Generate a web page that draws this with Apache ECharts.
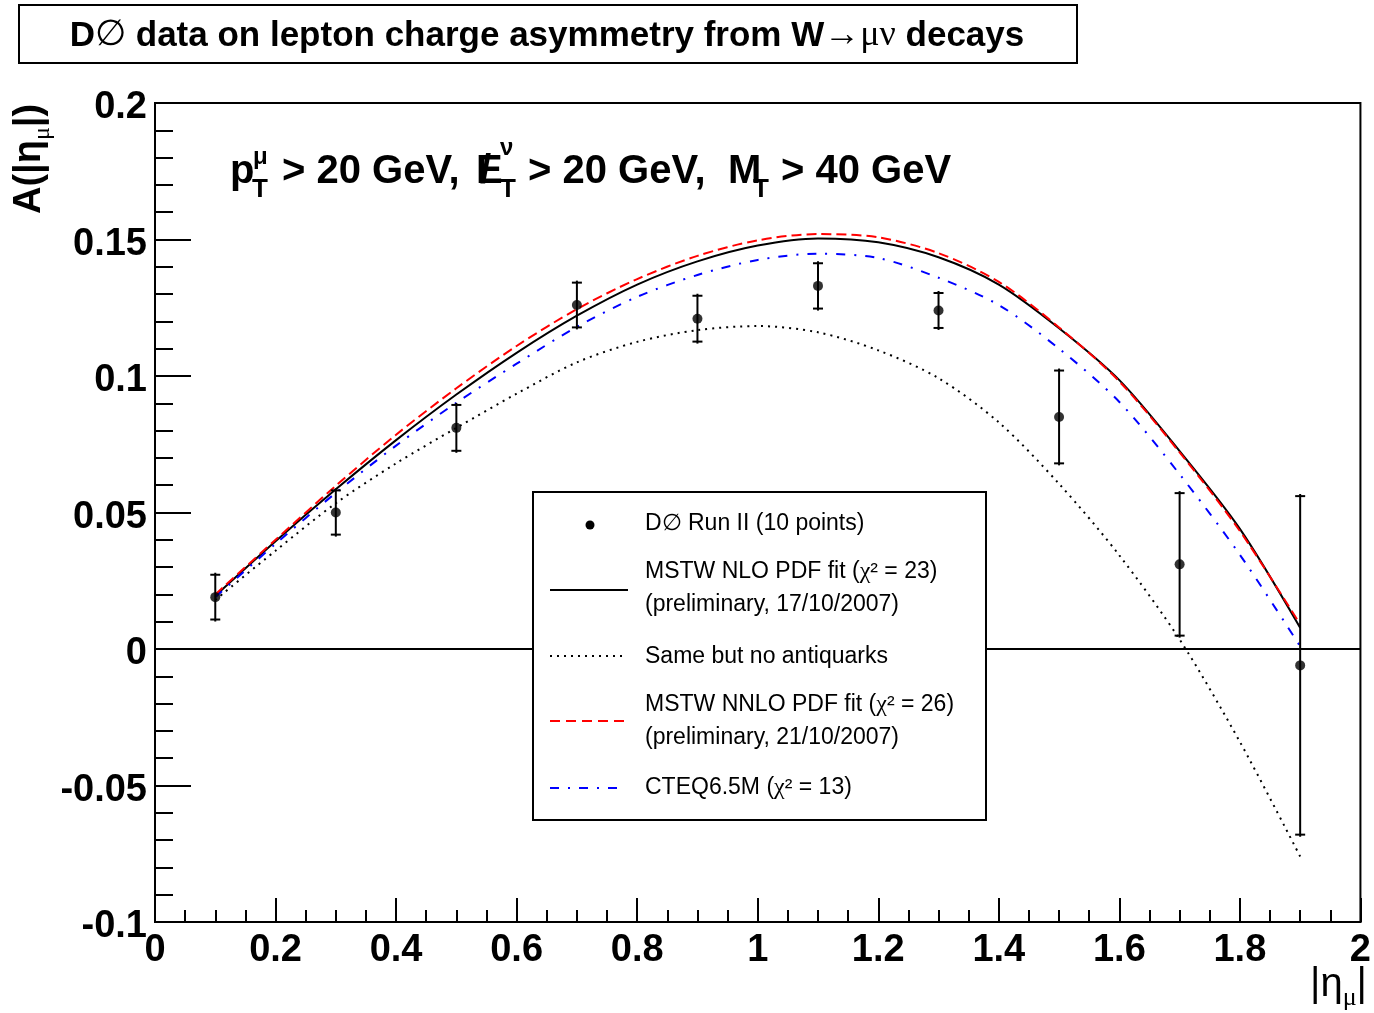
<!DOCTYPE html>
<html>
<head>
<meta charset="utf-8">
<script src="https://cdn.jsdelivr.net/npm/echarts@6/dist/echarts.min.js"></script>
<style>
  html, body { margin: 0; padding: 0; background: #fff; }
  #chart { width: 1374px; height: 1013px; }
</style>
</head>
<body>
<div id="chart"></div>
<script>
// D0 points
var etaBins = [0.1, 0.3, 0.5, 0.7, 0.9, 1.1, 1.3, 1.5, 1.7, 1.9];
var d0Asym = [0.019, 0.050, 0.081, 0.126, 0.121, 0.133, 0.124, 0.085, 0.031, -0.006];
var d0Err = [0.0082, 0.0081, 0.0084, 0.0082, 0.0084, 0.0083, 0.0064, 0.0170, 0.0261, 0.0620];

// theory curves
var etaGrid = [0.1, 0.2, 0.3, 0.4, 0.5, 0.6, 0.7, 0.8, 0.9, 1.0, 1.1, 1.2, 1.3, 1.4, 1.5, 1.6, 1.7, 1.8, 1.9];
var mstwNlo = [0.0195, 0.0395, 0.0585, 0.0765, 0.0932, 0.1085, 0.1221, 0.1335, 0.1420, 0.1478, 0.1504, 0.1490, 0.1435, 0.1335, 0.1175, 0.0985, 0.0725, 0.0440, 0.0078];
var noAntiq = [0.0180, 0.0360, 0.0534, 0.0680, 0.0810, 0.0935, 0.1050, 0.1125, 0.1168, 0.1183, 0.1160, 0.1094, 0.0992, 0.0830, 0.0605, 0.0343, 0.0035, -0.0340, -0.0760];
var mstwNnlo = [0.0200, 0.0400, 0.0598, 0.0785, 0.0955, 0.1110, 0.1245, 0.1355, 0.1440, 0.1497, 0.1520, 0.1508, 0.1450, 0.1345, 0.1178, 0.0980, 0.0720, 0.0432, 0.0090];
var cteq65 = [0.0190, 0.0385, 0.0572, 0.0745, 0.0902, 0.1045, 0.1180, 0.1290, 0.1370, 0.1425, 0.1448, 0.1432, 0.1360, 0.1260, 0.1100, 0.0905, 0.0640, 0.0345, 0.0010];

var SANS = '"Liberation Sans", Arial, sans-serif';
var SERIF = '"Liberation Serif", "DejaVu Serif", serif';

function pairs(xs, ys) {
    var out = [];
    for (var i = 0; i < xs.length; i++) out.push([xs[i], ys[i]]);
    return out;
}
var pointData = [];
for (var i = 0; i < etaBins.length; i++) pointData.push([etaBins[i], d0Asym[i], d0Err[i]]);

function curve(name, ys, color, type, z) {
    return {
        name: name, type: 'line', data: pairs(etaGrid, ys),
        showSymbol: false, smooth: 0.3, z: z,
        lineStyle: { color: color, width: 2, type: type, cap: 'butt' }
    };
}

function txt(x, y, text, size, weight, extra) {
    var st = { text: text, fill: '#000', fontSize: size, fontWeight: weight || 'normal',
               fontFamily: SANS, verticalAlign: 'middle', align: 'left' };
    if (extra) for (var k in extra) st[k] = extra[k];
    return { type: 'text', x: x, y: y, z: 100, style: st };
}
function seg(x1, x2, y, color, dash) {
    return { type: 'line', z: 100, shape: { x1: x1, y1: y, x2: x2, y2: y },
             style: { stroke: color, lineWidth: 2, lineDash: dash } };
}

var chart = echarts.init(document.getElementById('chart'));

var option = {
    animation: false,
    backgroundColor: '#fff',
    grid: { left: 155, right: 10, top: 103, bottom: 91, show: true,
            borderColor: '#000', borderWidth: 2, backgroundColor: 'transparent' },
    xAxis: {
        type: 'value', min: 0, max: 2, interval: 0.2,
        axisLine: { onZero: false, lineStyle: { color: '#000', width: 2 } },
        axisTick: { inside: true, length: 24, lineStyle: { color: '#000', width: 2 } },
        minorTick: { show: true, splitNumber: 4, length: 12, lineStyle: { color: '#000', width: 2 } },
        splitLine: { show: false },
        axisLabel: { margin: 10, color: '#000', fontSize: 38, fontWeight: 'bold', fontFamily: SANS }
    },
    yAxis: {
        type: 'value', min: -0.1, max: 0.2, interval: 0.05,
        axisLine: { lineStyle: { color: '#000', width: 2 } },
        axisTick: { inside: true, length: 36, lineStyle: { color: '#000', width: 2 } },
        minorTick: { show: true, splitNumber: 5, length: 18, lineStyle: { color: '#000', width: 2 } },
        splitLine: { show: false },
        axisLabel: {
            margin: 8, color: '#000', fontSize: 38, fontWeight: 'bold', fontFamily: SANS,
            formatter: '{v|{value}}',
            rich: { v: { padding: [10, 0, 0, 0], color: '#000', fontSize: 38, fontWeight: 'bold', fontFamily: SANS } }
        }
    },
    series: [
        {
            name: 'MSTW NLO', type: 'line', data: pairs(etaGrid, mstwNlo),
            showSymbol: false, smooth: 0.3, z: 3,
            lineStyle: { color: '#000', width: 2 },
            markLine: {
                silent: true, symbol: ['none', 'none'], label: { show: false },
                lineStyle: { color: '#000', width: 2, type: 'solid' },
                data: [{ yAxis: 0 }]
            }
        },
        curve('no antiquarks', noAntiq, '#000', [2, 5], 3),
        curve('MSTW NNLO', mstwNnlo, '#ff0000', [10, 5], 4),
        curve('CTEQ6.5M', cteq65, '#0000ff', [9, 9, 2, 9], 4),
        {
            name: 'errors', type: 'custom', data: pointData, z: 6,
            renderItem: function (params, api) {
                var x = api.value(0), y = api.value(1), e = api.value(2);
                var top = api.coord([x, y + e]);
                var bot = api.coord([x, y - e]);
                var st = { stroke: '#000', lineWidth: 2 };
                return { type: 'group', children: [
                    { type: 'line', shape: { x1: top[0], y1: top[1] - 2, x2: bot[0], y2: bot[1] + 2 }, style: st },
                    { type: 'line', shape: { x1: top[0] - 5, y1: top[1], x2: top[0] + 5, y2: top[1] }, style: st },
                    { type: 'line', shape: { x1: bot[0] - 5, y1: bot[1], x2: bot[0] + 5, y2: bot[1] }, style: st }
                ] };
            }
        },
        {
            name: 'D0 Run II', type: 'scatter', data: pairs(etaBins, d0Asym), z: 7,
            symbol: 'circle', symbolSize: 10, itemStyle: { color: '#000' }
        }
    ],
    graphic: [
        // title box
        { type: 'rect', z: 100, shape: { x: 19, y: 5, width: 1058, height: 58 },
          style: { fill: '#fff', stroke: '#000', lineWidth: 2 } },
        { type: 'text', x: 547, y: 36, z: 101, style: {
            text: 'D{s|∅} data on lepton charge asymmetry from W{s|→μν} decays',
            fill: '#000', fontSize: 35, fontWeight: 'bold', fontFamily: SANS,
            align: 'center', verticalAlign: 'middle',
            rich: { s: { fontSize: 36, fontWeight: 'normal', fontFamily: SERIF, fill: '#000' } }
        } },
        // y axis name
        { type: 'text', x: 30, y: 214, rotation: Math.PI / 2, z: 100, style: {
            text: 'A(|η{sub|μ}|)', fill: '#000', fontSize: 38, fontWeight: 'bold', fontFamily: SANS,
            align: 'left', verticalAlign: 'middle', lineHeight: 50,
            rich: { sub: { fontSize: 24, fontWeight: 'normal', fontFamily: SERIF, verticalAlign: 'bottom', lineHeight: 50, fill: '#000' } }
        } },
        // x axis name
        { type: 'text', x: 1310, y: 985, z: 100, style: {
            text: '|η{sub|μ}|', fill: '#000', fontSize: 40, fontFamily: SANS,
            align: 'left', verticalAlign: 'middle', lineHeight: 52,
            rich: { sub: { fontSize: 26, fontFamily: SERIF, verticalAlign: 'bottom', lineHeight: 52, fill: '#000' } }
        } },
        // cut annotation
        txt(230, 172, 'p', 40, 'bold'),
        txt(253, 157, 'μ', 24, 'bold'),
        txt(252, 190, 'T', 26, 'bold'),
        txt(282, 172, '> 20 GeV,', 40, 'bold'),
        txt(476, 172, 'E', 40, 'bold'),
        txt(480, 172, '/', 40, 'bold'),
        txt(500, 148, 'ν', 24, 'bold'),
        txt(500, 190, 'T', 26, 'bold'),
        txt(528, 172, '> 20 GeV,', 40, 'bold'),
        txt(728, 172, 'M', 40, 'bold'),
        txt(753, 190, 'T', 26, 'bold'),
        txt(781, 172, '> 40 GeV', 40, 'bold'),
        // legend box
        { type: 'rect', z: 99, shape: { x: 533, y: 492, width: 453, height: 328 },
          style: { fill: '#fff', stroke: '#000', lineWidth: 2 } },
        { type: 'circle', z: 100, shape: { cx: 590, cy: 525, r: 4.5 }, style: { fill: '#000' } },
        seg(550, 628, 590, '#000', null),
        seg(550, 626, 656, '#000', [2, 5]),
        seg(550, 626, 721, '#ff0000', [10, 6]),
        seg(550, 626, 788, '#0000ff', [9, 9, 2, 9]),
        txt(645, 524, 'D∅ Run II (10 points)', 23),
        txt(645, 572, 'MSTW NLO PDF fit ({c|χ}² = 23)', 23, 'normal', { rich: { c: { fontSize: 24, fontFamily: SERIF, fill: '#000' } } }),
        txt(645, 605, '(preliminary, 17/10/2007)', 23),
        txt(645, 657, 'Same but no antiquarks', 23),
        txt(645, 705, 'MSTW NNLO PDF fit ({c|χ}² = 26)', 23, 'normal', { rich: { c: { fontSize: 24, fontFamily: SERIF, fill: '#000' } } }),
        txt(645, 738, '(preliminary, 21/10/2007)', 23),
        txt(645, 788, 'CTEQ6.5M ({c|χ}² = 13)', 23, 'normal', { rich: { c: { fontSize: 24, fontFamily: SERIF, fill: '#000' } } })
    ]
};

chart.setOption(option);
</script>
</body>
</html>
